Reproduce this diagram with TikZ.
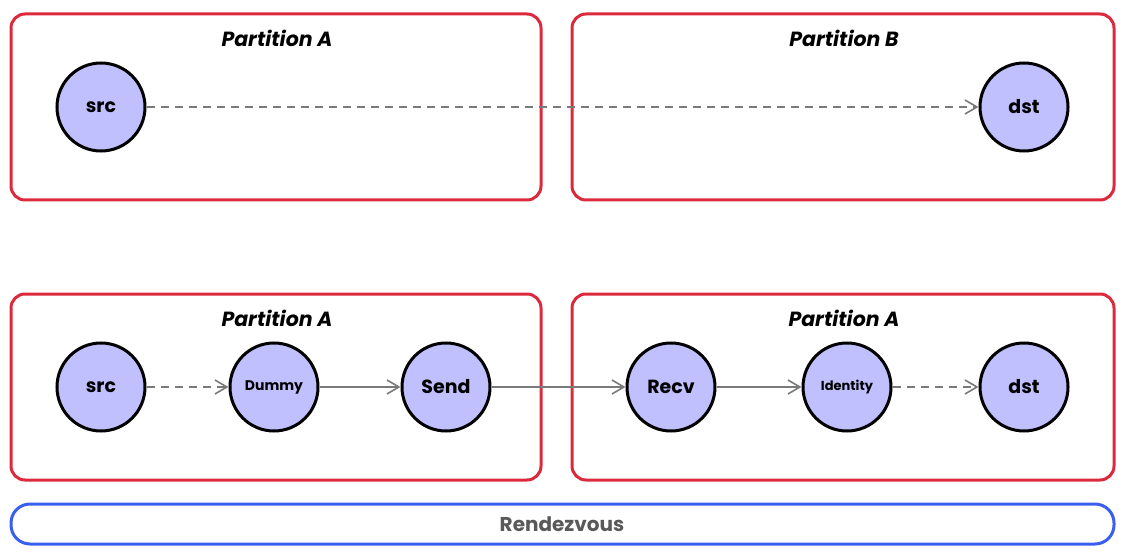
\documentclass[tikz,border=0pt]{standalone}
\usepackage{fontspec}
\setmainfont{Poppins}
\usetikzlibrary{arrows.meta}
\definecolor{partred}{HTML}{DC2A3C}
\definecolor{rzblue}{HTML}{3A5EF0}
\definecolor{nodefill}{HTML}{C0C0FF}
\definecolor{edgegray}{HTML}{7A7A7A}
\tikzset{
  part/.style={draw=partred, line width=3pt, rounded corners=14pt},
  rz/.style={draw=rzblue, line width=3pt, rounded corners=19pt},
  op/.style={circle, draw=black, line width=3pt, fill=nodefill, minimum size=88pt, inner sep=0pt, font=\bfseries\fontsize{19}{22}\selectfont},
  smallop/.style={op, font=\bfseries\fontsize{13}{15}\selectfont},
  title/.style={font=\bfseries\itshape\fontsize{20.5}{24}\selectfont},
  flow/.style={draw=edgegray, line width=2pt, -{Straight Barb[length=12pt,width=14pt,line width=1.6pt]}},
  flowdash/.style={flow, line width=1.5pt, dash pattern=on 8pt off 6pt}
}
\begin{document}
\begin{tikzpicture}[x=1pt,y=-1pt]
\useasboundingbox (0,0) rectangle (1124,556);
% boxes
\draw[part] (11,14) rectangle (541,200);
\draw[part] (572,14) rectangle (1114,200);
\draw[part] (11,294) rectangle (541,480);
\draw[part] (572,294) rectangle (1114,480);
\draw[rz] (11,504) rectangle (1114,544);
% titles
\node[title] (tA1) at (277,38) {Partition A};
\node[title] (tB1) at (844,38) {Partition B};
\node[title] (tA2) at (277,318) {Partition A};
\node[title] (tA3) at (844,318) {Partition A};
\node[font=\bfseries\fontsize{20}{23}\selectfont, text=black!65] (rzl) at (562,524) {Rendezvous};
% nodes
\node[op] (src1) at (101,107) {src};
\node[op] (dst1) at (1024,107) {dst};
\node[op] (src2) at (101,387) {src};
\node[smallop, font=\bfseries\fontsize{14}{16}\selectfont] (dummy) at (274,387) {Dummy};
\node[op] (send) at (446,387) {Send};
\node[op] (recv) at (671,387) {Recv};
\node[smallop] (ident) at (847,387) {Identity};
\node[op] (dst2) at (1024,387) {dst};
% edges
\draw[flowdash] (src1) -- (dst1);
\draw[flowdash] (src2) -- (dummy);
\draw[flow] (dummy) -- (send);
\draw[flow] (send) -- (recv);
\draw[flow] (recv) -- (ident);
\draw[flowdash] (ident) -- (dst2);
\end{tikzpicture}
\end{document}
